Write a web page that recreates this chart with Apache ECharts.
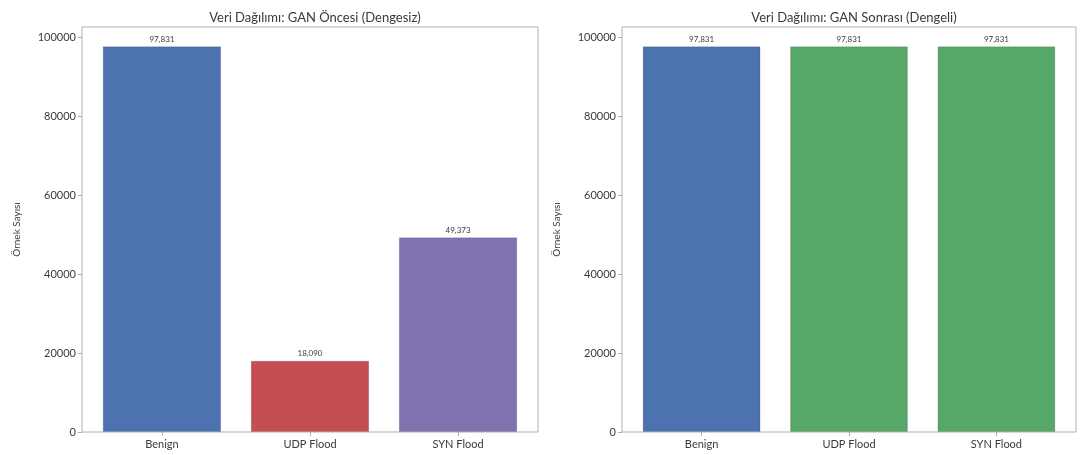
<!DOCTYPE html>
<html>
<head>
<meta charset="utf-8">
<script src="https://cdn.jsdelivr.net/npm/echarts@6/dist/echarts.min.js"></script>
<style>
  html, body { margin: 0; padding: 0; background: #ffffff; }
  #chart { width: 1085px; height: 455px; }
</style>
</head>
<body>
<div id="chart"></div>
<script>
// Class counts before and after GAN-based oversampling
const categories = ['Benign', 'UDP Flood', 'SYN Flood'];
const beforeCounts = [97831, 18090, 49373];
const afterCounts = [97831, 97831, 97831];
const beforeColors = ['#4C72B0', '#C44E52', '#8172B2'];
const afterColors = ['#4C72B0', '#55A868', '#55A868'];
const titles = ['Veri Dağılımı: GAN Öncesi (Dengesiz)', 'Veri Dağılımı: GAN Sonrası (Dengeli)'];
const yLabel = 'Örnek Sayısı';

const FONT = 'Lato, "DejaVu Sans", sans-serif';
const TEXT = '#3a3a3a';
const AXIS = '#b0b0b0';
const yMax = Math.max(...beforeCounts) * 1.05;

const fmt = v => v.toLocaleString('en-US');

// Each panel: an outer frame grid (border + y axis) and an inner data grid (bars + x axis)
const panels = [
  { frameLeft: 82, frameWidth: 456, data: beforeCounts, colors: beforeColors },
  { frameLeft: 622, frameWidth: 454, data: afterCounts, colors: afterColors }
];
const TOP = 27, HEIGHT = 405;

const grid = [], xAxis = [], yAxis = [], series = [], title = [];
panels.forEach((p, i) => {
  const unit = p.frameWidth / 3.08;
  const pad = unit * 0.04;
  // frame grid
  grid.push({ left: p.frameLeft, top: TOP, width: p.frameWidth, height: HEIGHT,
              show: true, borderColor: AXIS, borderWidth: 1, backgroundColor: 'transparent' });
  // data grid
  grid.push({ left: p.frameLeft + pad, top: TOP, width: p.frameWidth - 2 * pad, height: HEIGHT });

  xAxis.push({ gridIndex: 2 * i, type: 'value', show: false, min: 0, max: 1 });
  yAxis.push({
    gridIndex: 2 * i, type: 'value', min: 0, max: yMax, interval: 20000,
    name: yLabel, nameLocation: 'middle', nameGap: 60, nameRotate: 90,
    nameTextStyle: { fontFamily: FONT, fontSize: 10, color: TEXT },
    axisLine: { show: false },
    axisTick: { show: true, length: 4, lineStyle: { color: AXIS } },
    axisLabel: { fontFamily: FONT, fontSize: 11, color: TEXT, margin: 6, showMaxLabel: false,
                 formatter: v => String(v) },
    splitLine: { show: false }
  });

  xAxis.push({
    gridIndex: 2 * i + 1, type: 'category', data: categories,
    axisLine: { show: false },
    axisTick: { show: true, alignWithLabel: true, length: 4, lineStyle: { color: AXIS } },
    axisLabel: { fontFamily: FONT, fontSize: 11, color: TEXT, margin: 7 }
  });
  yAxis.push({ gridIndex: 2 * i + 1, type: 'value', min: 0, max: yMax, show: false, splitLine: { show: false } });

  series.push({
    type: 'bar', xAxisIndex: 2 * i + 1, yAxisIndex: 2 * i + 1,
    barWidth: '80%',
    data: p.data.map((v, k) => ({ value: v, itemStyle: { color: p.colors[k] } })),
    itemStyle: { borderColor: 'rgba(0,0,0,0.12)', borderWidth: 1 },
    label: { show: true, position: 'top', distance: 3, fontFamily: FONT, fontSize: 8, color: TEXT,
             formatter: d => fmt(d.value) },
    silent: true
  });

  title.push({
    text: titles[i], left: p.frameLeft + p.frameWidth / 2, top: 6, textAlign: 'center',
    textStyle: { fontFamily: FONT, fontSize: 13, fontWeight: 'normal', color: TEXT }
  });
});

const chart = echarts.init(document.getElementById('chart'), null, { renderer: 'canvas' });
chart.setOption({ animation: false, backgroundColor: '#ffffff', title, grid, xAxis, yAxis, series });
</script>
</body>
</html>
